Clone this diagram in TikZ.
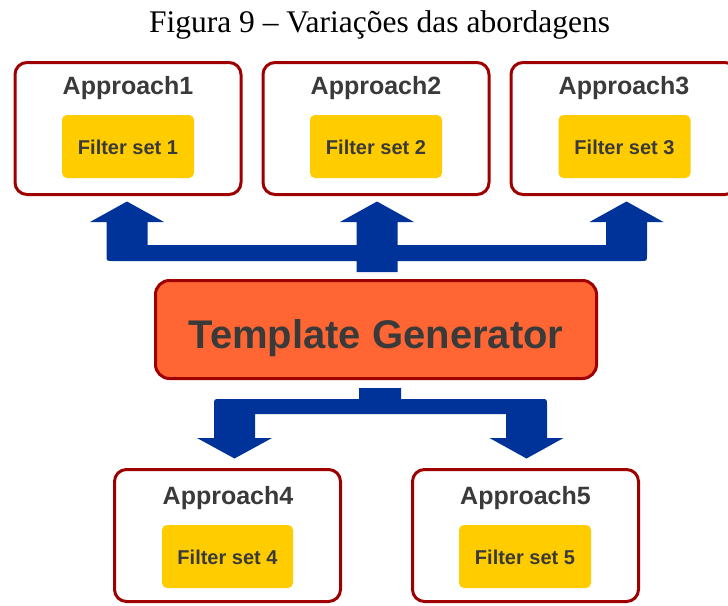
\documentclass[tikz,border=0pt]{standalone}
\usepackage{fontspec}
\setmainfont{Liberation Serif}
\setsansfont{Liberation Sans}
\usetikzlibrary{calc}
\definecolor{boxred}{HTML}{9E0000}
\definecolor{arrowblue}{HTML}{003399}
\definecolor{gold}{HTML}{FFCC00}
\definecolor{tgorange}{HTML}{FF6633}
\definecolor{txtgray}{HTML}{3A3A3A}
\begin{document}
\begin{tikzpicture}[x=1pt,y=-1pt,
  appbox/.style={draw=boxred, line width=3pt, rounded corners=12pt, fill=white,
    minimum width=226pt, minimum height=132pt, inner sep=0pt},
  filterbox/.style={fill=gold, rounded corners=5pt, minimum width=132pt,
    minimum height=63pt, inner sep=0pt},
  tgbox/.style={draw=boxred, line width=3pt, rounded corners=14pt, fill=tgorange,
    minimum width=441pt, minimum height=98pt, inner sep=0pt},
  apptext/.style={font=\sffamily\bfseries\fontsize{25}{28}\selectfont, text=txtgray, anchor=base, inner sep=0pt},
  filtertext/.style={font=\sffamily\bfseries\fontsize{20}{24}\selectfont, text=txtgray, anchor=base, inner sep=0pt},
  tgtext/.style={font=\sffamily\bfseries\fontsize{40}{44}\selectfont, text=txtgray, anchor=base, inner sep=0pt},
  blockarrow/.style={fill=arrowblue}
]
\useasboundingbox (0,0) rectangle (728,605);
\clip (0,0) rectangle (728,605);

% title
\node[font=\fontsize{31.5}{36}\selectfont, anchor=base, inner sep=0pt] (title) at (379.5,32) {Figura 9 – Variações das abordagens};

% top approach boxes
\node[appbox] (a1) at (128,128.5) {};
\node[appbox] (a2) at (376,128.5) {};
\node[appbox] (a3) at (624,128.5) {};
\node[apptext] (a1t) at (128,94) {Approach1};
\node[apptext] (a2t) at (376,94) {Approach2};
\node[apptext] (a3t) at (624,94) {Approach3};
\node[filterbox] (f1) at (128,146.5) {};
\node[filterbox] (f2) at (376,146.5) {};
\node[filterbox] (f3) at (624.5,146.5) {};
\node[filtertext] (f1t) at (128,154) {Filter set 1};
\node[filtertext] (f2t) at (376,154) {Filter set 2};
\node[filtertext] (f3t) at (624.5,154) {Filter set 3};

% template generator
\node[tgbox] (tg) at (376,329.5) {};
\node[tgtext] (tgt) at (376,348) {Template Generator};

% bottom approach boxes
\node[appbox, minimum width=226pt] (a4) at (227.5,535.5) {};
\node[appbox, minimum width=226pt] (a5) at (525.5,535.5) {};
\node[apptext] (a4t) at (228,504) {Approach4};
\node[apptext] (a5t) at (525.5,504) {Approach5};
\node[filterbox, minimum width=131pt] (f4) at (227.5,556.5) {};
\node[filterbox] (f5) at (525,556.5) {};
\node[filtertext] (f4t) at (227.5,564) {Filter set 4};
\node[filtertext] (f5t) at (525,564) {Filter set 5};

% connector tips, defined from the nodes
\coordinate (t1) at ($(a1.south)+(-1,5.5)$);
\coordinate (t2) at ($(a2.south)+(1,5.5)$);
\coordinate (t3) at ($(a3.south)+(2.5,5.5)$);
\coordinate (t4) at ($(a4.north)+(7,-9.5)$);
\coordinate (t5) at ($(a5.north)+(1,-9.5)$);

% top connector (Template Generator -> Approach1,2,3)
\fill[blockarrow] (t1) -- (164,222) -- (147.5,222) -- (147.5,245) -- (356.5,245)
  -- (356.5,222) -- (340,222) -- (t2) -- (414,222) -- (397.5,222) -- (397.5,245)
  -- (606,245) -- (606,222) -- (589.5,222) -- (t3) -- (663.5,222) -- (647,222)
  -- (647,255) .. controls (647,261) .. (641,261)
  -- (397.5,261) -- (397.5,272) -- (356.5,272) -- (356.5,261)
  -- (112.5,261) .. controls (106.5,261) .. (106.5,255)
  -- (106.5,222) -- (90,222) -- cycle;

% bottom connector (Template Generator -> Approach4,5)
\fill[blockarrow] (359,388) -- (401,388) -- (401,399) -- (541,399)
  .. controls (547,399) .. (547,405)
  -- (547,438) -- (563.5,438) -- (t5) -- (489.5,438) -- (506,438) -- (506,414)
  -- (255,414) -- (255,438) -- (272,438) -- (t4) -- (197,438) -- (214,438)
  -- (214,405) .. controls (214,399) .. (220,399)
  -- (359,399) -- cycle;
\end{tikzpicture}
\end{document}
